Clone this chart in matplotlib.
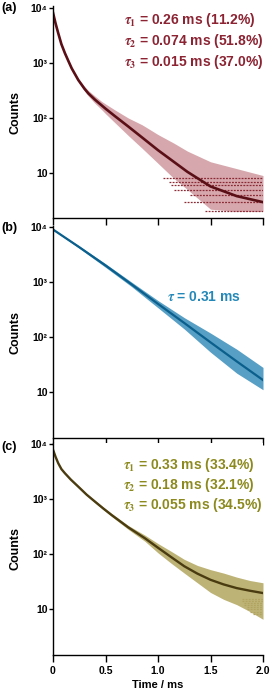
import numpy as np
import matplotlib
matplotlib.use("Agg")
import matplotlib.pyplot as plt
from matplotlib.ticker import FixedLocator, NullLocator

plt.rcParams['font.family'] = ['Liberation Sans', 'DejaVu Sans']
plt.rcParams['font.weight'] = 'bold'
plt.rcParams['mathtext.fontset'] = 'stix'

# ---- data ----
# (a) three-exponential decay
t_a = [0, 0.025, 0.05, 0.08, 0.114, 0.15, 0.178, 0.241, 0.3, 0.337, 0.4, 0.463,
       0.5, 0.59, 0.717, 0.85, 1.0, 1.15, 1.28, 1.5, 1.75, 2.0]
fit_a = [8200, 5200, 3470, 2200, 1500, 1050, 800, 490, 340, 280, 215, 170,
         148, 108, 70, 44, 26, 16, 10.5, 5.7, 3.8, 2.95]
low_a = [7900, 5000, 3300, 2100, 1430, 1000, 760, 465, 310, 250, 185, 142,
         120, 82, 48, 28, 15, 8, 5, 2.2, 2, 2]
high_a = [8500, 5400, 3650, 2300, 1580, 1100, 840, 520, 375, 315, 250, 200,
          180, 140, 100, 75, 50, 35, 25, 16, 12, 9]
levels_a = [2, 3, 4, 5, 6, 7, 8]
starts_a = [1.45, 1.25, 1.3, 1.15, 1.12, 1.1, 1.05]

# (b) single exponential
t_b = [0, 0.25, 0.5, 0.75, 1.0, 1.25, 1.5, 1.75, 2.0]
fit_b = [9000, 4300, 2000, 900, 400, 180, 80, 36, 16.5]
low_b = [8800, 4100, 1850, 820, 340, 140, 53, 22, 11]
high_b = [9200, 4500, 2150, 990, 460, 225, 118, 60, 28]

# (c) three-exponential decay
t_c = [0, 0.025, 0.05, 0.08, 0.114, 0.17, 0.241, 0.32, 0.40, 0.48, 0.559, 0.717,
       0.876, 1.0, 1.125, 1.25, 1.375, 1.5, 1.625, 1.75, 1.875, 2.0]
fit_c = [7870, 5800, 4460, 3500, 2930, 2250, 1675, 1200, 895, 670, 510, 305,
         193, 130, 88, 60, 44, 34, 28, 24, 21.5, 19.5]
low_c = [7700, 5650, 4300, 3380, 2830, 2170, 1610, 1150, 850, 635, 480, 280,
         170, 105, 68, 45, 30, 20, 15, 12, 9, 6.5]
high_c = [8050, 5950, 4620, 3620, 3030, 2330, 1740, 1250, 940, 710, 545, 330,
          220, 155, 112, 80, 62, 52, 45, 38, 33, 30]
levels_c = [8, 9, 10, 11, 12, 13, 14, 15]
starts_c = [1.9, 1.88, 1.85, 1.85, 1.82, 1.82, 1.8, 1.8]

texts_a = [r"$\tau_1$ = 0.26 ms (11.2%)", r"$\tau_2$ = 0.074 ms (51.8%)",
           r"$\tau_3$ = 0.015 ms (37.0%)"]
texts_b = [r"$\tau$ = 0.31 ms"]
texts_c = [r"$\tau_1$ = 0.33 ms (33.4%)", r"$\tau_2$ = 0.18 ms (32.1%)",
           r"$\tau_3$ = 0.055 ms (34.5%)"]

W, H = 271, 694
fig = plt.figure(figsize=(W / 100, H / 100), dpi=100)


def make_axes(top_px, bottom_px):
    return fig.add_axes([53 / W, 1 - bottom_px / H, 210 / W, (bottom_px - top_px) / H])


def style(ax, ylim, show_xlabels):
    ax.set_yscale('log')
    ax.set_xlim(0, 2.0)
    ax.set_ylim(*ylim)
    for s in ['top', 'right']:
        ax.spines[s].set_visible(False)
    for s in ['left', 'bottom']:
        ax.spines[s].set_linewidth(1.0)
    ax.yaxis.set_major_locator(FixedLocator([10, 100, 1000, 10000]))
    ax.yaxis.set_minor_locator(NullLocator())
    ax.set_yticklabels(['10', '10²', '10³', '10⁴'], fontsize=7.5, fontweight='bold')
    ax.set_xticks([0, 0.5, 1.0, 1.5, 2.0])
    ax.tick_params(axis='y', direction='out', length=3, width=1, pad=1)
    ax.tick_params(axis='x', direction='out', length=5, width=1, pad=3)
    if show_xlabels:
        ax.set_xticklabels(['0', '0.5', '1.0', '1.5', '2.0'], fontsize=7.5, fontweight='bold')
        ax.set_xlabel('Time / ms', fontsize=8, fontweight='bold', labelpad=3)
    else:
        ax.set_xticklabels([])
    ax.set_ylabel('Counts', fontsize=9, fontweight='bold')
    ax.yaxis.set_label_coords(-0.152, 0.5)


def add_texts(texts, x_px, y_px_list, color):
    for txt, y in zip(texts, y_px_list):
        fig.text(x_px / W, 1 - y / H, txt, color=color, fontsize=10,
                 fontweight='bold', va='center', ha='left')


# panel (a)
ax_a = make_axes(6, 218)
style(ax_a, (1.52, 10870), False)
ax_a.fill_between(t_a, low_a, high_a, color='#b5606a', alpha=0.55, lw=0)
for lev, st in zip(levels_a, starts_a):
    ax_a.plot([st, 2.0], [lev, lev], color='#8a2a35', lw=0.9, ls=(0, (1.5, 1)))
ax_a.plot(t_a, fit_a, color='#5a0f16', lw=1.9)
add_texts(texts_a, 124, [20, 41, 62], '#8b2332')
fig.text(1 / W, 1 - 8 / H, '(a)', fontsize=9, fontweight='bold', va='center')

# panel (b)
ax_b = make_axes(226, 438)
style(ax_b, (1.46, 10420), False)
ax_b.fill_between(t_b, low_b, high_b, color='#1f7fb0', alpha=0.75, lw=0)
ax_b.plot(t_b, fit_b, color='#0b5f8c', lw=1.6)
add_texts(texts_b, 167, [297], '#2388b8')
fig.text(1 / W, 1 - 228 / H, '(b)', fontsize=9, fontweight='bold', va='center')

# panel (c)
ax_c = make_axes(443, 655)
style(ax_c, (1.46, 10420), True)
ax_c.fill_between(t_c, low_c, high_c, color='#a89a48', alpha=0.75, lw=0)
for lev, st in zip(levels_c, starts_c):
    ax_c.plot([st, 2.0], [lev, lev], color='#b0a460', lw=0.9, ls=(0, (1.5, 1)))
ax_c.plot(t_c, fit_c, color='#4a3c10', lw=1.7)
add_texts(texts_c, 123, [465, 485, 505], '#8c8a1e')
fig.text(1 / W, 1 - 447 / H, '(c)', fontsize=9, fontweight='bold', va='center')

fig.savefig('out.png', dpi=100)
